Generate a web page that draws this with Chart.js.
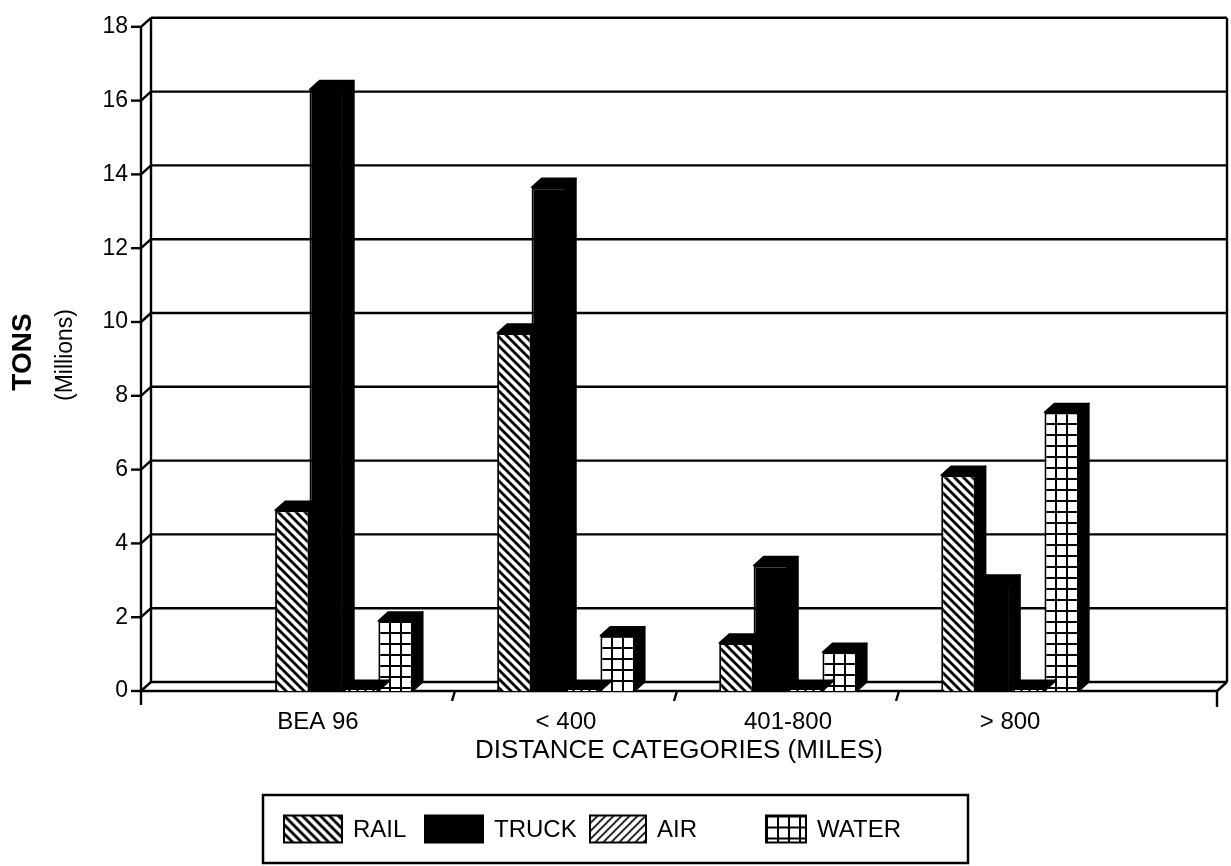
<!DOCTYPE html>
<html>
<head>
<meta charset="utf-8">
<script src="https://cdn.jsdelivr.net/npm/chart.js@4.4.1/dist/chart.umd.min.js"></script>
<style>
  html, body { margin: 0; padding: 0; background: #fff; }
  canvas { display: block; }
</style>
</head>
<body>
<canvas id="chart" width="1231" height="866"></canvas>
<script>
// Freight tonnage by mode and distance band (millions of tons)
const categories = ['BEA 96', '< 400', '401-800', '> 800'];
const seriesNames = ['RAIL', 'TRUCK', 'AIR', 'WATER'];
const rail  = [4.9, 9.7, 1.3, 5.85];
const truck = [16.3, 13.65, 3.4, 2.9];
const air   = [0.05, 0.05, 0.05, 0.05];
const water = [1.9, 1.5, 1.05, 7.55];
const yMax = 18;
const yStep = 2;

const FONT = "'Liberation Sans', Arial, Helvetica, sans-serif";
const DX = 10, DY = 9;            // depth offset of the 3-D box
const labelNudge = [-26, 0, 0, 0]; // horizontal shift of each category label

function tile(w, h, draw) {
  const c = document.createElement('canvas');
  c.width = w; c.height = h;
  const g = c.getContext('2d');
  g.fillStyle = '#fff';
  g.fillRect(0, 0, w, h);
  g.strokeStyle = '#000';
  g.fillStyle = '#000';
  draw(g, w, h);
  return c;
}
function hatch(s, lw, dir) {
  return tile(s, s, (g) => {
    g.lineWidth = lw;
    for (let k = -1; k <= 1; k++) {
      g.beginPath();
      if (dir > 0) { g.moveTo(k * s - 1, -1); g.lineTo(k * s + s + 1, s + 1); }
      else { g.moveTo(k * s - 1, s + 1); g.lineTo(k * s + s + 1, -1); }
      g.stroke();
    }
  });
}
const gridTile = tile(11, 11, (g, w, h) => { g.fillRect(0, 0, w, 2); g.fillRect(0, 0, 2, h); });
const pctx = document.getElementById('chart').getContext('2d');
const fills = [
  pctx.createPattern(hatch(9, 2.8, 1), 'repeat'),
  '#000',
  pctx.createPattern(hatch(8, 1.6, -1), 'repeat'),
  pctx.createPattern(gridTile, 'repeat')
];
const values = [rail, truck, air, water];

function line(ctx, x1, y1, x2, y2) {
  ctx.beginPath(); ctx.moveTo(x1, y1); ctx.lineTo(x2, y2); ctx.stroke();
}
function poly(ctx, pts) {
  ctx.beginPath();
  ctx.moveTo(pts[0][0], pts[0][1]);
  for (let i = 1; i < pts.length; i++) ctx.lineTo(pts[i][0], pts[i][1]);
  ctx.closePath();
  ctx.fill();
  ctx.stroke();
}

// walls, floor and axis lines of the 3-D box
const framePlugin = {
  id: 'frame3d',
  beforeDatasetsDraw(chart) {
    const { ctx, chartArea: a, scales: { x, y } } = chart;
    const y0 = y.getPixelForValue(0);
    const yT = y.getPixelForValue(yMax);
    ctx.save();
    ctx.strokeStyle = '#000';
    ctx.lineWidth = 2.4;
    y.ticks.forEach(t => {
      const py = y.getPixelForValue(t.value);
      line(ctx, a.left + DX, py - DY, a.right + DX, py - DY);
      line(ctx, a.left, py, a.left + DX, py - DY);
      line(ctx, a.left - 10, py, a.left, py);
    });
    line(ctx, a.left + DX, yT - DY, a.left + DX, y0 - DY);
    line(ctx, a.right + DX, yT - DY, a.right + DX, y0 - DY);
    line(ctx, a.left, yT, a.left, y0 + 14);
    line(ctx, a.left, y0, a.right, y0);
    line(ctx, a.right, y0, a.right + DX, y0 - DY);
    line(ctx, a.right, y0, a.right, y0 + 16);
    for (let i = 0; i < categories.length - 1; i++) {
      const px = x.getPixelForValue(i + 0.5);
      line(ctx, px, y0, px - 3, y0 + 10);
    }
    ctx.restore();
  }
};

// grid cells of the water bars start at each bar's own corner
const alignPlugin = {
  id: 'alignGrid',
  beforeDatasetDraw(chart, args) {
    if (args.index !== 3) return;
    args.meta.data.forEach(el => {
      const p = chart.ctx.createPattern(gridTile, 'repeat');
      p.setTransform(new DOMMatrix().translate(Math.round(el.x - el.width / 2), Math.round(el.y)));
      el.options = Object.assign({}, el.options, { backgroundColor: p });
    });
  }
};

// top and side faces of each bar
const barsPlugin = {
  id: 'bars3d',
  afterDatasetDraw(chart, args) {
    const ctx = chart.ctx;
    ctx.save();
    ctx.fillStyle = '#000';
    ctx.strokeStyle = '#000';
    ctx.lineWidth = 1.5;
    ctx.lineJoin = 'round';
    args.meta.data.forEach(el => {
      const { x, y, base, width } = el;
      const L = x - width / 2, R = x + width / 2;
      poly(ctx, [[L, y], [L + DX, y - DY], [R + DX, y - DY], [R, y]]);
      poly(ctx, [[R, y], [R + DX, y - DY], [R + DX, base - DY], [R, base]]);
    });
    ctx.restore();
  }
};

// category labels, y-axis titles and the boxed legend
const textPlugin = {
  id: 'texts',
  afterDraw(chart) {
    const { ctx, scales: { x, y } } = chart;
    ctx.save();
    ctx.fillStyle = '#000';
    ctx.textAlign = 'center';
    ctx.textBaseline = 'middle';

    ctx.font = '24px ' + FONT;
    const ly = y.getPixelForValue(0) + 31;
    categories.forEach((c, i) => ctx.fillText(c, x.getPixelForValue(i) + labelNudge[i], ly));

    ctx.save();
    ctx.translate(23, 352);
    ctx.rotate(-Math.PI / 2);
    ctx.font = 'bold 28px ' + FONT;
    ctx.fillText('TONS', 0, 0);
    ctx.restore();
    ctx.save();
    ctx.translate(66, 355);
    ctx.rotate(-Math.PI / 2);
    ctx.font = '23px ' + FONT;
    ctx.fillText('(Millions)', 0, 0);
    ctx.restore();

    // legend
    const box = { l: 263, t: 795, r: 968, b: 863 };
    ctx.strokeStyle = '#000';
    ctx.lineWidth = 2.5;
    ctx.strokeRect(box.l, box.t, box.r - box.l, box.b - box.t);
    const swX = [284, 425, 590, 766];
    const swW = [58, 58, 56, 40];
    const swH = 27;
    const sy = (box.t + box.b) / 2;
    ctx.font = '24px ' + FONT;
    ctx.textAlign = 'left';
    seriesNames.forEach((name, i) => {
      ctx.save();
      const f = fills[i];
      if (typeof f !== 'string') f.setTransform(new DOMMatrix().translate(swX[i], sy - swH / 2));
      ctx.fillStyle = f;
      ctx.fillRect(swX[i], sy - swH / 2, swW[i], swH);
      ctx.lineWidth = 2;
      ctx.strokeRect(swX[i], sy - swH / 2, swW[i], swH);
      ctx.restore();
      ctx.fillText(name, swX[i] + swW[i] + 11, sy + 1);
    });
    ctx.restore();
  }
};

new Chart(document.getElementById('chart'), {
  type: 'bar',
  data: {
    datasets: seriesNames.map((name, i) => ({
      label: name,
      data: values[i].map((v, j) => ({ x: j, y: v })),
      backgroundColor: fills[i],
      borderColor: '#000',
      borderWidth: 2,
      categoryPercentage: 0.62,
      barPercentage: 1.0
    }))
  },
  options: {
    responsive: false,
    animation: false,
    devicePixelRatio: 1,
    layout: { padding: { left: 0, right: 14, top: 14, bottom: 0 } },
    plugins: { legend: { display: false }, tooltip: { enabled: false } },
    scales: {
      x: {
        type: 'linear',
        offset: false,
        min: -0.914,
        max: 3.932,
        grid: { display: false, drawTicks: false },
        border: { display: false },
        afterBuildTicks: (s) => { s.ticks = categories.map((_, i) => ({ value: i })); },
        afterFit: (s) => { s.height = 175; },
        ticks: { display: false },
        title: {
          display: true, text: 'DISTANCE CATEGORIES (MILES)', color: '#000',
          font: { family: FONT, size: 26 }, padding: { top: 0, bottom: 100 }
        }
      },
      y: {
        min: 0,
        max: yMax,
        grid: { display: false, drawTicks: false },
        border: { display: false },
        afterFit: (s) => { s.width = 141; },
        ticks: { stepSize: yStep, padding: 13, color: '#000', font: { family: FONT, size: 23 } }
      }
    }
  },
  plugins: [framePlugin, alignPlugin, barsPlugin, textPlugin]
});
</script>
</body>
</html>
